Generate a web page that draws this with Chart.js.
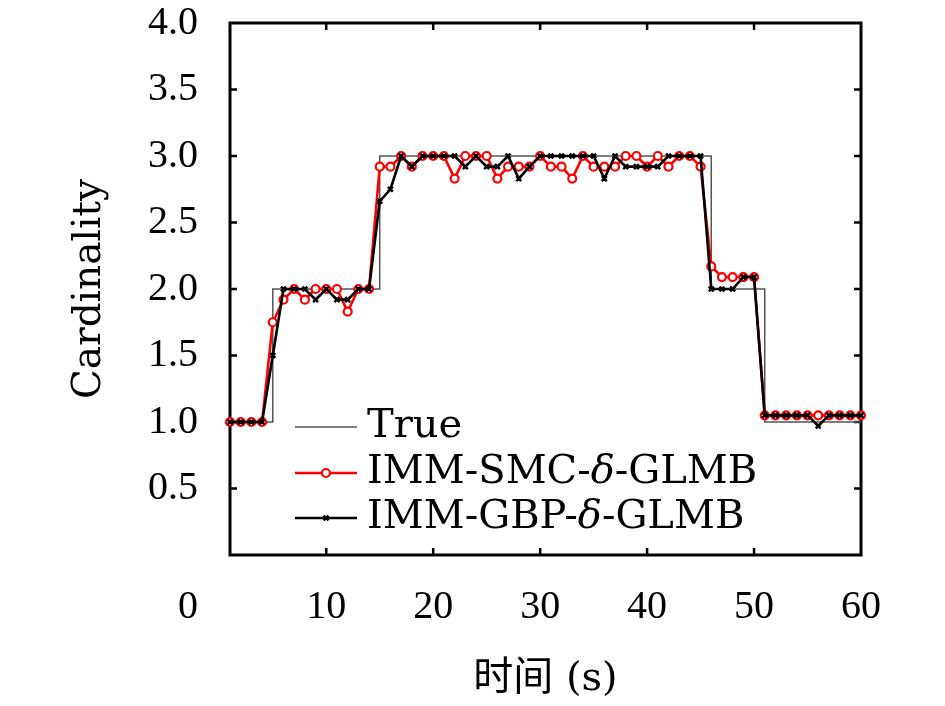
<!DOCTYPE html>
<html><head><meta charset="utf-8">
<style>html,body{margin:0;padding:0;background:#fff}canvas{display:block}</style>
<script src="https://cdn.jsdelivr.net/npm/chart.js@4.4.1/dist/chart.umd.min.js"></script>
</head><body>
<canvas id="c" width="945" height="706"></canvas>
<script>
const timeSteps = [1,2,3,4,5,6,7,8,9,10,11,12,13,14,15,16,17,18,19,20,21,22,23,24,25,26,27,28,29,30,31,32,33,34,35,36,37,38,39,40,41,42,43,44,45,46,47,48,49,50,51,52,53,54,55,56,57,58,59,60];
const trueCard = [1,1,1,1,2,2,2,2,2,2,2,2,2,2,3,3,3,3,3,3,3,3,3,3,3,3,3,3,3,3,3,3,3,3,3,3,3,3,3,3,3,3,3,3,3,2,2,2,2,2,1,1,1,1,1,1,1,1,1,1];
const smcCard = [1,1,1,1,1.75,1.92,2,1.92,2,2,2,1.83,2,2,2.92,2.92,3,2.92,3,3,3,2.83,3,3,3,2.83,2.92,2.92,2.92,3,2.92,2.92,2.83,3,2.92,2.92,2.92,3,3,2.92,3,2.92,3,3,2.92,2.17,2.09,2.09,2.09,2.09,1.05,1.05,1.05,1.05,1.05,1.05,1.05,1.05,1.05,1.05];
const gbpCard = [1,1,1,1,1.5,2,2,2,1.92,2,1.92,1.92,2,2,2.66,2.75,3,2.92,3,3,3,3,2.92,3,2.92,2.92,3,2.83,2.92,3,3,3,3,3,3,2.83,3,2.92,2.92,2.92,2.92,3,3,3,3,2,2,2,2.09,2.09,1.05,1.05,1.05,1.05,1.05,0.97,1.05,1.05,1.05,1.05];
const xTickValues = [10,20,30,40,50,60];
const xMin = 1, xMax = 60;
const yMin = 0, yMax = 4, yStep = 0.5;
const seriesLabels = ['True','IMM-SMC-δ-GLMB','IMM-GBP-δ-GLMB'];
const xTitle = '时间 (s)';
const yTitle = 'Cardinality';
const extraXLabel = '0';

const TICK_FAMILY = '"Liberation Serif", serif';
const TEXT_FAMILY = '"DejaVu Serif", "Noto Sans CJK SC", serif';
const toPts = arr => timeSteps.map((t,i)=>({x:t,y:arr[i]}));

const framePlugin = {
  id:'frame',
  beforeDatasetsDraw(chart){
    const {ctx, chartArea:a, scales:{x,y}} = chart;
    ctx.save();
    ctx.strokeStyle='#000'; ctx.lineWidth=3;
    ctx.strokeRect(a.left,a.top,a.right-a.left,a.bottom-a.top);
    ctx.lineWidth=2.5;
    const L=7;
    ctx.beginPath();
    y.ticks.forEach(t=>{ if(t.value<=yMin||t.value>=yMax) return; const py=y.getPixelForValue(t.value);
      ctx.moveTo(a.left,py); ctx.lineTo(a.left+L,py); ctx.moveTo(a.right,py); ctx.lineTo(a.right-L,py); });
    x.ticks.forEach(t=>{ if(t.value>=xMax) return; const px=x.getPixelForValue(t.value);
      ctx.moveTo(px,a.bottom); ctx.lineTo(px,a.bottom-L); ctx.moveTo(px,a.top); ctx.lineTo(px,a.top+L); });
    ctx.stroke();
    ctx.font='40px '+TICK_FAMILY; ctx.textAlign='center'; ctx.textBaseline='middle'; ctx.fillStyle='#000';
    ctx.fillText(extraXLabel, a.left-42, x.top+52);
    ctx.restore();
  }
};

const legendPlugin = {
  id:'insideLegend',
  afterDraw(chart){
    const {ctx, chartArea:a} = chart;
    const rows=[a.bottom-128, a.bottom-82, a.bottom-37];
    const x0=a.left+65, x1=a.left+127, tx=a.left+137;
    chart.data.datasets.forEach((ds,i)=>{
      const yy=rows[i];
      ctx.save();
      ctx.strokeStyle=ds.borderColor; ctx.lineWidth=ds.borderWidth;
      ctx.beginPath(); ctx.moveTo(x0,yy); ctx.lineTo(x1,yy); ctx.stroke();
      if (ds.pointRadius>0){
        ctx.lineWidth=ds.pointBorderWidth; ctx.strokeStyle=ds.pointBorderColor; ctx.fillStyle=ds.pointBackgroundColor;
        Chart.helpers.drawPoint(ctx,{pointStyle:ds.pointStyle,radius:ds.pointRadius,borderWidth:ds.pointBorderWidth,rotation:0},(x0+x1)/2,yy);
      }
      ctx.fillStyle='#000'; ctx.textBaseline='middle'; ctx.textAlign='left';
      let xx=tx;
      ds.label.split(/(δ)/).forEach(p=>{ if(!p) return;
        ctx.font=(p==='δ'?'italic ':'')+'40px '+TEXT_FAMILY;
        ctx.fillText(p,xx,yy); xx+=ctx.measureText(p).width; });
      ctx.restore();
    });
  }
};

new Chart(document.getElementById('c'), {
  type:'line',
  data:{datasets:[
    {label:seriesLabels[0], data:toPts(trueCard), borderColor:'#555555', borderWidth:1.5, pointRadius:0, stepped:true, fill:false, order:3, clip:false},
    {label:seriesLabels[1], data:toPts(smcCard), borderColor:'#ff0000', borderWidth:2.6, pointStyle:'circle', pointRadius:4,
      pointBorderWidth:2.2, pointBorderColor:'#ff0000', pointBackgroundColor:'#ffffff', fill:false, tension:0, order:2, clip:false},
    {label:seriesLabels[2], data:toPts(gbpCard), borderColor:'#000000', borderWidth:2.6, pointStyle:'crossRot', pointRadius:3.5,
      pointBorderWidth:2.5, pointBorderColor:'#000000', pointBackgroundColor:'#000000', fill:false, tension:0, order:1, clip:false}
  ]},
  options:{
    responsive:false, animation:false, devicePixelRatio:1,
    layout:{padding:{top:23,right:84,left:0,bottom:0}},
    plugins:{legend:{display:false}, tooltip:{enabled:false}},
    scales:{
      x:{type:'linear', min:xMin, max:xMax,
        afterBuildTicks:s=>{ s.ticks = xTickValues.map(v=>({value:v})); },
        afterFit:s=>{ s.height=151; s.paddingLeft=0; s.paddingRight=0; },
        grid:{display:false, drawTicks:false}, border:{display:false},
        ticks:{font:{family:TICK_FAMILY,size:40,lineHeight:1}, color:'#000', padding:32, maxRotation:0, autoSkip:false, callback:v=>String(v)},
        title:{display:true, text:xTitle, color:'#000', font:{family:TEXT_FAMILY,size:40,lineHeight:1}, padding:{top:0,bottom:6}}
      },
      y:{min:yMin, max:yMax,
        afterFit:s=>{ s.width=230; s.paddingTop=0; s.paddingBottom=0; },
        grid:{display:false, drawTicks:false}, border:{display:false},
        ticks:{stepSize:yStep, font:{family:TICK_FAMILY,size:40,lineHeight:1}, color:'#000', padding:32, callback:v=> v===0?'':Number(v).toFixed(1)},
        title:{display:true, text:yTitle, color:'#000', font:{family:TEXT_FAMILY,size:39,lineHeight:1}, padding:{top:70,bottom:0}}
      }
    }
  },
  plugins:[framePlugin, legendPlugin]
});
</script>
</body></html>
